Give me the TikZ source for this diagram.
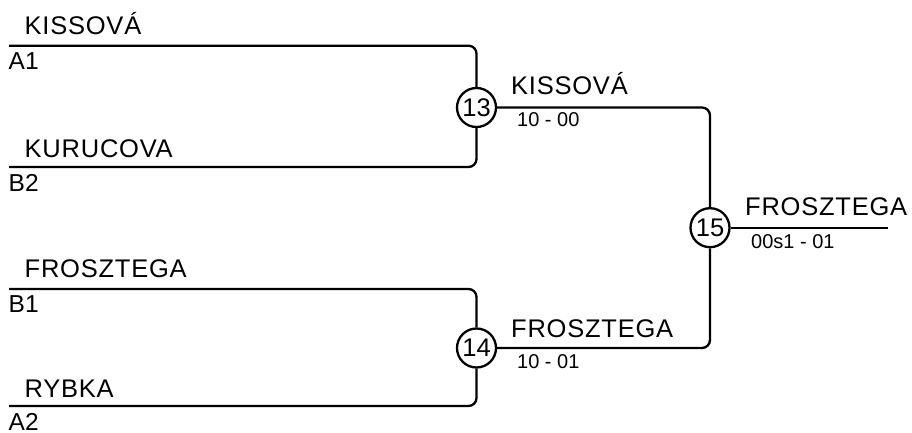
\documentclass[tikz,border=0pt]{standalone}
\usepackage{fontspec}
\setmainfont{Liberation Sans}
\newfontfamily\namefont[LetterSpace=3]{Liberation Sans}
\newfontfamily\numfont{Liberation Sans}
\begin{document}
\begin{tikzpicture}[x=1pt,y=-1pt,
  wire/.style={line width=2.3pt,rounded corners=8pt},
  matchc/.style={circle,draw,line width=2.3pt,minimum size=39pt,inner sep=0pt,fill=white,font=\numfont\fontsize{25.5}{25.5}\selectfont},
  plname/.style={anchor=base west,inner sep=0pt,font=\namefont\fontsize{25.5}{28}\selectfont},
  seedlbl/.style={anchor=base west,inner sep=0pt,font=\numfont\fontsize{24.5}{28}\selectfont},
  scorelbl/.style={anchor=base west,inner sep=0pt,font=\numfont\fontsize{20}{22}\selectfont}]
\useasboundingbox (0,0) rectangle (912,433);
% coordinates of line starts
\coordinate (a1) at (9,45.7);
\coordinate (b2) at (9,167);
\coordinate (b1) at (9,289);
\coordinate (a2) at (9,406);
\coordinate (fin) at (888,227.7);
% match circles
\node[matchc] (m13) at (476.5,107.5) {13};
\node[matchc] (m14) at (476.5,348) {14};
\node[matchc] (m15) at (710,227.7) {15};
% wires
\draw[wire] (a1) -| (m13);
\draw[wire] (b2) -| (m13);
\draw[wire] (b1) -| (m14);
\draw[wire] (a2) -| (m14);
\draw[wire] (m13) -| (m15);
\draw[wire] (m14) -| (m15);
\draw[wire] (m15) -- (fin);
% first round names
\node[plname] (n1) at (24.5,35) {KISSOVÁ};
\node[seedlbl] (s1) at (8.5,70) {A1};
\node[plname] (n2) at (24.5,157) {KURUCOVA};
\node[seedlbl] (s2) at (8.5,191) {B2};
\node[plname] (n3) at (24.5,277) {FROSZTEGA};
\node[seedlbl] (s3) at (8.5,312) {B1};
\node[plname] (n4) at (24.5,397) {RYBKA};
\node[seedlbl] (s4) at (8.5,430) {A2};
% second round
\node[plname] (w13) at (511,94.5) {KISSOVÁ};
\node[scorelbl] (r13) at (517,127) {10 - 00};
\node[plname] (w14) at (511,337.5) {FROSZTEGA};
\node[scorelbl] (r14) at (517,368) {10 - 01};
% final
\node[plname] (w15) at (745,215) {FROSZTEGA};
\node[scorelbl] (r15) at (751,248) {00s1 - 01};
\end{tikzpicture}
\end{document}
